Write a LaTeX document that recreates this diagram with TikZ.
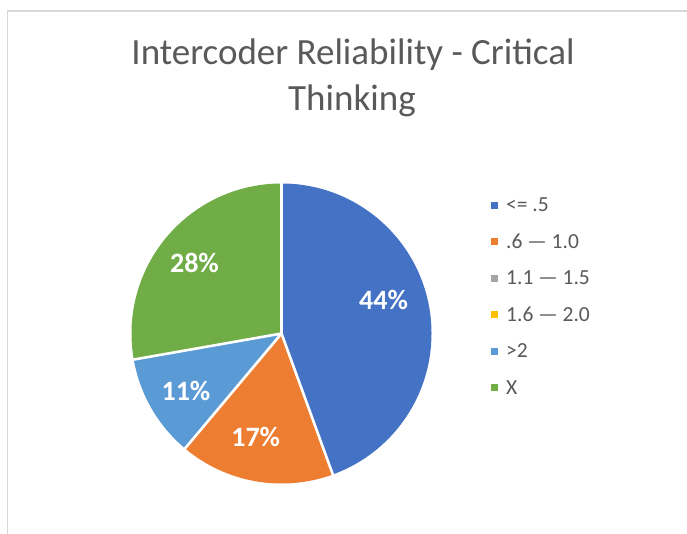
\documentclass[tikz,border=0pt]{standalone}
\usepackage{fontspec}
\setmainfont{Carlito}
\definecolor{cblue}{HTML}{4472C4}
\definecolor{corange}{HTML}{ED7D31}
\definecolor{cgray}{HTML}{A5A5A5}
\definecolor{cyellow}{HTML}{FFC000}
\definecolor{clblue}{HTML}{5B9BD5}
\definecolor{cgreen}{HTML}{70AD47}
\definecolor{txtgray}{HTML}{595959}
\definecolor{framegray}{HTML}{D9D9D9}
\tikzset{
  titletxt/.style={anchor=base, text=txtgray, font=\fontsize{37}{44}\selectfont, inner sep=0pt},
  pct/.style={anchor=base, text=white, font=\fontsize{28}{32}\selectfont\bfseries, inner sep=0pt},
  legsq/.style={minimum size=7pt, inner sep=0pt},
  legtxt/.style={anchor=west, text=txtgray, font=\fontsize{21.5}{25}\selectfont, inner sep=0pt},
}
\begin{document}
\begin{tikzpicture}[x=1pt,y=-1pt]
\useasboundingbox (0,0) rectangle (687,533);
\draw[framegray, line width=1.6pt] (7.5,540) -- (7.5,11) -- (700,11);
\node[titletxt] (title1) at (353,64.5) {Intercoder Reliability - Critical};
\node[titletxt] (title2) at (352,110) {Thinking};
\begin{scope}[shift={(281.5,333.5)}, yscale=-1]
  \def\R{150}
  \fill[cblue] (0,0) -- (90:\R) arc[start angle=90, end angle=-70, radius=\R] -- cycle;
  \fill[corange] (0,0) -- (-70:\R) arc[start angle=-70, end angle=-130, radius=\R] -- cycle;
  \fill[clblue] (0,0) -- (-130:\R) arc[start angle=-130, end angle=-170, radius=\R] -- cycle;
  \fill[cgreen] (0,0) -- (190:\R) arc[start angle=190, end angle=90, radius=\R] -- cycle;
  \coordinate (c) at (0,0);
  \coordinate (b1) at (90:\R+2);
  \coordinate (b2) at (-70:\R+2);
  \coordinate (b3) at (-130:\R+2);
  \coordinate (b4) at (-170:\R+2);
  \draw[white, line width=2.6pt] (c) -- (b1) (c) -- (b2) (c) -- (b3) (c) -- (b4);
\end{scope}
\node[pct] (p44) at (383.5,309.5) {44\%};
\node[pct] (p28) at (194.5,272.7) {28\%};
\node[pct] (p11) at (186,400) {11\%};
\node[pct] (p17) at (255.7,446) {17\%};
\node[legsq, fill=cblue] (s1) at (494.5,205) {};
\node[legsq, fill=corange] (s2) at (494.5,241.5) {};
\node[legsq, fill=cgray] (s3) at (494.5,278) {};
\node[legsq, fill=cyellow] (s4) at (494.5,314.5) {};
\node[legsq, fill=clblue] (s5) at (494.5,351) {};
\node[legsq, fill=cgreen] (s6) at (494.5,387.5) {};
\node[legtxt] (l1) at (506,205) {<= .5};
\node[legtxt] (l2) at (506,241.5) {.6 — 1.0};
\node[legtxt] (l3) at (506,278) {1.1 — 1.5};
\node[legtxt] (l4) at (506,314.5) {1.6 — 2.0};
\node[legtxt] (l5) at (506,351) {>2};
\node[legtxt] (l6) at (506,387.5) {X};
\end{tikzpicture}
\end{document}
